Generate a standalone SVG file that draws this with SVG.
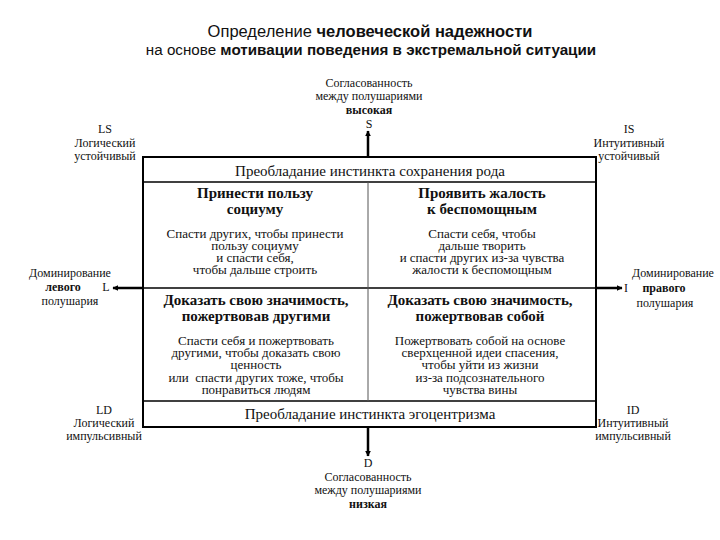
<svg xmlns="http://www.w3.org/2000/svg" width="720" height="540" viewBox="0 0 720 540">
<defs>
<marker id="ah" viewBox="0 0 10 10" refX="9" refY="5" markerWidth="6" markerHeight="6" orient="auto" markerUnits="userSpaceOnUse">
<path d="M0,0 L10,5 L0,10 z" fill="#000"/>
</marker>
<style>
.t{font-family:"Liberation Sans",Arial,sans-serif;fill:#111;text-anchor:middle}
.s{font-family:"Liberation Serif","Times New Roman",serif;fill:#111;text-anchor:middle}
.lab{font-size:12px}
.band{font-size:15px}
.h{font-size:15px;font-weight:bold}
.b{font-size:13px}
.bold{font-weight:bold}
.frame{fill:#fff;stroke:#000;stroke-width:2}
.line{stroke:#000;stroke-width:1.5;fill:none}
.thin{stroke:#555;stroke-width:1;fill:none}
.arr{stroke:#000;stroke-width:2.5;fill:none}
</style>
</defs>
<rect width="720" height="540" fill="#fff"/>
<g id="title">
<text class="t" x="370" y="37" font-size="16.5">Определение <tspan font-weight="bold">человеческой надежности</tspan></text>
<text class="t" x="371" y="55" font-size="15.2">на основе <tspan font-weight="bold">мотивации поведения в экстремальной ситуации</tspan></text>
</g>
<g id="connectors">
<line class="arr" x1="368" y1="157" x2="368" y2="131" marker-end="url(#ah)"/>
<line class="arr" x1="368" y1="427" x2="368" y2="456" marker-end="url(#ah)"/>
<line class="arr" x1="143" y1="288" x2="113" y2="288" marker-end="url(#ah)"/>
<line class="arr" x1="596" y1="288" x2="622" y2="288" marker-end="url(#ah)"/>
</g>
<g id="matrix">
<rect class="frame" x="143" y="157" width="453" height="270"/>
<line class="line" x1="143" y1="182" x2="596" y2="182"/>
<line class="line" x1="143" y1="288" x2="596" y2="288"/>
<line class="line" x1="143" y1="401" x2="596" y2="401"/>
<line class="thin" x1="368" y1="182" x2="368" y2="401"/>
</g>
<g id="band-top">
<text class="s band" x="370" y="176">Преобладание инстинкта сохранения рода</text>
</g>
<g id="band-bottom">
<text class="s band" x="370" y="419">Преобладание инстинкта эгоцентризма</text>
</g>
<g id="q1">
<text class="s h" x="255" y="198">Принести пользу</text>
<text class="s h" x="255" y="214">социуму</text>
<text class="s b" x="255" y="238">Спасти других, чтобы принести</text>
<text class="s b" x="255" y="250">пользу социуму</text>
<text class="s b" x="255" y="262">и спасти себя,</text>
<text class="s b" x="255" y="274">чтобы дальше строить</text>
</g>
<g id="q2">
<text class="s h" x="482" y="198">Проявить жалость</text>
<text class="s h" x="482" y="214">к беспомощным</text>
<text class="s b" x="482" y="238">Спасти себя, чтобы</text>
<text class="s b" x="482" y="250">дальше творить</text>
<text class="s b" x="482" y="262">и спасти других из-за чувства</text>
<text class="s b" x="482" y="274">жалости к беспомощным</text>
</g>
<g id="q3">
<text class="s h" x="256" y="305">Доказать свою значимость,</text>
<text class="s h" x="256" y="321">пожертвовав другими</text>
<text class="s b" x="256" y="345">Спасти себя и пожертвовать</text>
<text class="s b" x="256" y="357">другими, чтобы доказать свою</text>
<text class="s b" x="256" y="369">ценность</text>
<text class="s b" x="256" y="382" xml:space="preserve">или  спасти других тоже, чтобы</text>
<text class="s b" x="256" y="394">понравиться людям</text>
</g>
<g id="q4">
<text class="s h" x="480" y="305">Доказать свою значимость,</text>
<text class="s h" x="480" y="321">пожертвовав собой</text>
<text class="s b" x="480" y="345">Пожертвовать собой на основе</text>
<text class="s b" x="480" y="357">сверхценной идеи спасения,</text>
<text class="s b" x="480" y="369">чтобы уйти из жизни</text>
<text class="s b" x="480" y="382">из-за подсознательного</text>
<text class="s b" x="480" y="394">чувства вины</text>
</g>
<g id="S">
<text class="s lab" x="369" y="87">Согласованность</text>
<text class="s lab" x="369" y="100">между полушариями</text>
<text class="s lab bold" x="369" y="114">высокая</text>
<text class="s lab" x="369" y="128">S</text>
</g>
<g id="D">
<text class="s lab" x="368" y="467">D</text>
<text class="s lab" x="368" y="481">Согласованность</text>
<text class="s lab" x="368" y="494">между полушариями</text>
<text class="s lab bold" x="368" y="508">низкая</text>
</g>
<g id="LS">
<text class="s lab" x="105" y="133">LS</text>
<text class="s lab" x="105" y="147">Логический</text>
<text class="s lab" x="105" y="160">устойчивый</text>
</g>
<g id="IS">
<text class="s lab" x="629" y="133">IS</text>
<text class="s lab" x="629" y="147">Интуитивный</text>
<text class="s lab" x="629" y="160">устойчивый</text>
</g>
<g id="L">
<text class="s lab" x="70" y="277">Доминирование</text>
<text class="s lab bold" x="63" y="291">левого</text>
<text class="s lab" x="106" y="291">L</text>
<text class="s lab" x="70" y="305">полушария</text>
</g>
<g id="I">
<text class="s lab" x="673" y="277">Доминирование</text>
<text class="s lab" x="626" y="292">I</text>
<text class="s lab bold" x="664" y="292">правого</text>
<text class="s lab" x="665" y="307">полушария</text>
</g>
<g id="LD">
<text class="s lab" x="104" y="414">LD</text>
<text class="s lab" x="104" y="427">Логический</text>
<text class="s lab" x="104" y="440">импульсивный</text>
</g>
<g id="ID">
<text class="s lab" x="633" y="414">ID</text>
<text class="s lab" x="633" y="427">Интуитивный</text>
<text class="s lab" x="633" y="440">импульсивный</text>
</g>
</svg>
